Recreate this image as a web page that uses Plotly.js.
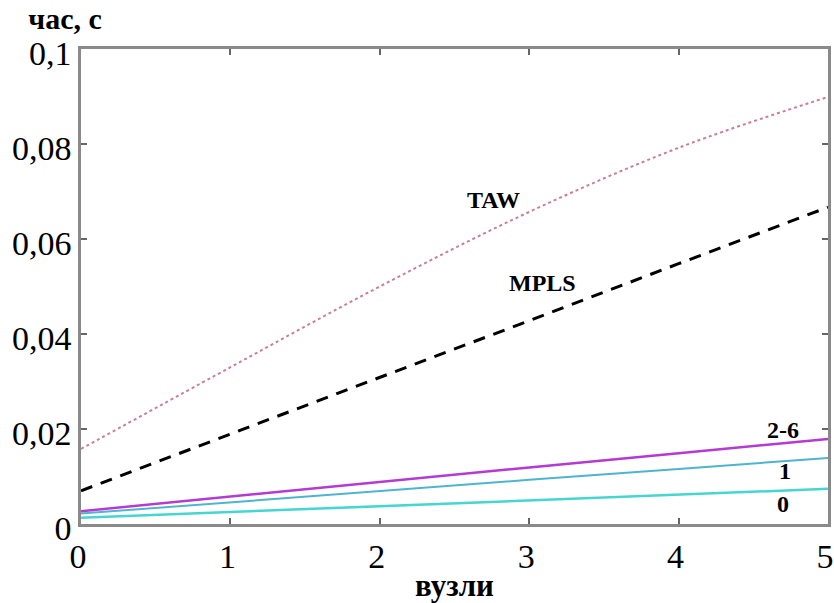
<!DOCTYPE html>
<html>
<head>
<meta charset="utf-8">
<script src="https://cdn.plot.ly/plotly-3.0.1.min.js"></script>
<style>
#chart text { font-family: 'Liberation Serif', 'Times New Roman', serif !important; }
</style>
</head>
<body style="margin:0;padding:0;background:#fff;">
<div style="position:absolute;left:0;top:4px;width:130px;text-align:center;font-family:'Liberation Serif';font-weight:bold;font-size:30px;line-height:30px;color:#000;z-index:5">час, с</div>
<div id="chart" style="width:834px;height:603px"></div>
<script>
const nodes = [0, 1, 2, 3, 4, 5];
const tawValues = [0.0158, 0.0330, 0.0500, 0.0657, 0.0792, 0.0899];
const mplsValues = [0.0070, 0.0189, 0.0309, 0.0428, 0.0548, 0.0667];
const series26 = [0.0027, 0.0058, 0.0089, 0.0119, 0.0149, 0.0179];
const series1 = [0.0022, 0.0046, 0.0069, 0.0093, 0.0116, 0.0139];
const series0 = [0.0013, 0.0025, 0.0037, 0.0049, 0.0062, 0.0074];
const yTicks = [0, 0.02, 0.04, 0.06, 0.08, 0.1];
const xTicks = [0, 1, 2, 3, 4, 5];

const serif = 'Liberation Serif';

const traces = [
  {x: nodes, y: series0, mode: 'lines', line: {color: '#45d6d2', width: 2.5}, name: '0'},
  {x: nodes, y: series1, mode: 'lines', line: {color: '#4fb4d0', width: 2}, name: '1'},
  {x: nodes, y: series26, mode: 'lines', line: {color: '#b43ad2', width: 2.5}, name: '2-6'},
  {x: nodes, y: mplsValues, mode: 'lines', line: {color: '#000000', width: 3, dash: '12px,9px'}, name: 'MPLS'},
  {x: nodes, y: tawValues, mode: 'lines', line: {color: '#c87f9c', width: 2, dash: 'dot', shape: 'spline'}, name: 'TAW'}
];

const lbl = (text, x, y) => ({text: text, x: x, y: y, xref: 'x', yref: 'y', showarrow: false,
  font: {family: serif, size: 24, color: '#000'}});

const layout = {
  width: 834, height: 603,
  margin: {l: 81, r: 6, t: 49, b: 79},
  paper_bgcolor: '#fff', plot_bgcolor: '#fff',
  showlegend: false,
  separators: ', ',
  xaxis: {
    range: [0, 5], tickvals: xTicks, ticks: 'inside', ticklen: 6, tickcolor: '#666', tickwidth: 2,
    showline: true, linecolor: '#8a8a8a', linewidth: 2.5, mirror: 'ticks', showgrid: false, zeroline: false,
    ticklabeloverflow: 'allow', ticklabelshift: -3,
    tickfont: {family: serif, size: 34, color: '#000'},
    title: {text: '<b>вузли</b>', font: {family: serif, size: 31, color: '#000'}, standoff: 2}
  },
  yaxis: {
    range: [0, 0.1], tickvals: yTicks, ticks: 'inside', ticklen: 6, tickcolor: '#666', tickwidth: 2,
    showline: true, linecolor: '#8a8a8a', linewidth: 2.5, mirror: 'ticks', showgrid: false, zeroline: false,
    ticklabeloverflow: 'allow', ticklabelshift: 4,
    tickfont: {family: serif, size: 34, color: '#000'}
  },
  annotations: [
    lbl('<b>TAW</b>', 2.76, 0.0682),
    lbl('<b>MPLS</b>', 3.09, 0.0507),
    lbl('<b>2-6</b>', 4.70, 0.0198),
    lbl('<b>1</b>', 4.71, 0.0112),
    lbl('<b>0</b>', 4.70, 0.0042)
  ]
};

Plotly.newPlot('chart', traces, layout, {displayModeBar: false});
</script>
</body>
</html>
